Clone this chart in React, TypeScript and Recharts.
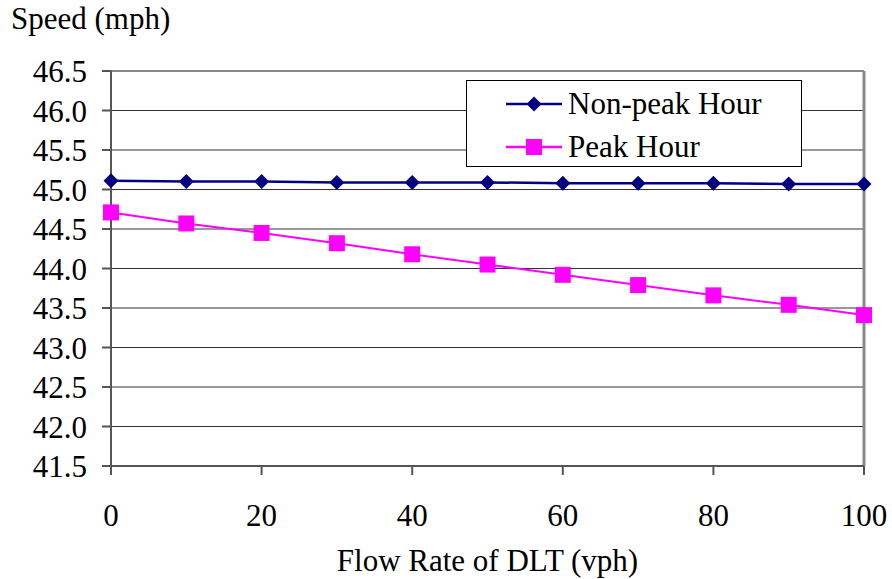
import { LineChart, Line, XAxis, YAxis, CartesianGrid, ReferenceLine } from 'recharts';

const flowRates = [0, 10, 20, 30, 40, 50, 60, 70, 80, 90, 100];
const nonPeakSpeeds = [45.11, 45.1, 45.1, 45.09, 45.09, 45.09, 45.08, 45.08, 45.08, 45.07, 45.07];
const peakSpeeds = [44.71, 44.57, 44.45, 44.32, 44.18, 44.05, 43.92, 43.79, 43.66, 43.54, 43.41];
const xTicks = [0, 20, 40, 60, 80, 100];
const yTicks = [41.5, 42, 42.5, 43, 43.5, 44, 44.5, 45, 45.5, 46, 46.5];

const NAVY = '#000080';
const MAGENTA = '#FF00FF';
const FONT = "'Liberation Serif', 'DejaVu Serif', serif";

const data = flowRates.map((flow, i) => ({
  flow,
  nonPeak: nonPeakSpeeds[i],
  peak: peakSpeeds[i],
}));

function Diamond(props: any) {
  const { cx, cy } = props;
  if (cx == null || cy == null) return null;
  const r = 7.5;
  return <polygon points={`${cx},${cy - r} ${cx + r},${cy} ${cx},${cy + r} ${cx - r},${cy}`} fill={NAVY} />;
}

function Square(props: any) {
  const { cx, cy } = props;
  if (cx == null || cy == null) return null;
  return <rect x={cx - 8} y={cy - 8} width={16} height={16} fill={MAGENTA} />;
}

function LegendBox() {
  const rows = [
    { name: 'Non-peak Hour', color: NAVY, marker: 'diamond' },
    { name: 'Peak Hour', color: MAGENTA, marker: 'square' },
  ];
  return (
    <div
      style={{
        position: 'absolute',
        left: 466,
        top: 80,
        width: 336,
        height: 87,
        boxSizing: 'border-box',
        border: '1.5px solid #000',
        background: '#fff',
        paddingTop: 5,
      }}
    >
      {rows.map((r) => (
        <div key={r.name} style={{ display: 'flex', alignItems: 'center', height: 36, marginBottom: 7 }}>
          <svg width={56} height={20} style={{ marginLeft: 39, marginRight: 6 }}>
            <line x1={0} y1={10} x2={56} y2={10} stroke={r.color} strokeWidth={2.5} />
            {r.marker === 'diamond' ? (
              <polygon points="28,2.5 35.5,10 28,17.5 20.5,10" fill={r.color} />
            ) : (
              <rect x={20} y={2} width={16} height={16} fill={r.color} />
            )}
          </svg>
          <span style={{ fontFamily: FONT, fontSize: 31, color: '#000', lineHeight: '36px' }}>{r.name}</span>
        </div>
      ))}
    </div>
  );
}

export default function App() {
  return (
    <div style={{ position: 'absolute', left: 0, top: 0, width: 892, height: 579, background: '#fff', fontFamily: FONT }}>
      <LineChart width={892} height={579} data={data} margin={{ top: 71, right: 28, bottom: 0, left: 0 }} style={{ fontFamily: FONT }}>
        <CartesianGrid horizontal vertical={false} stroke="#333" strokeWidth={1} />
        <XAxis
          dataKey="flow"
          type="number"
          domain={[0, 100]}
          ticks={xTicks}
          interval={0}
          height={113}
          tickSize={9}
          tickMargin={29}
          stroke="#555"
          strokeWidth={2}
          tick={{ fill: '#000', fontFamily: FONT, fontSize: 31 }}
          label={{ value: 'Flow Rate of DLT (vph)', position: 'insideBottom', offset: 8, fill: '#000', fontFamily: FONT, fontSize: 31 }}
        />
        <YAxis
          type="number"
          domain={[41.5, 46.5]}
          ticks={yTicks}
          interval={0}
          width={111}
          tickSize={9}
          tickMargin={15}
          stroke="#555"
          strokeWidth={2}
          tickFormatter={(v: number) => v.toFixed(1)}
          tick={{ fill: '#000', fontFamily: FONT, fontSize: 31 }}
        />
        <ReferenceLine y={46.5} stroke="#888" strokeWidth={2} />
        <ReferenceLine x={100} stroke="#888" strokeWidth={3} />
        <Line
          type="linear"
          dataKey="nonPeak"
          name="Non-peak Hour"
          stroke={NAVY}
          strokeWidth={2.5}
          dot={<Diamond />}
          isAnimationActive={false}
        />
        <Line
          type="linear"
          dataKey="peak"
          name="Peak Hour"
          stroke={MAGENTA}
          strokeWidth={2}
          dot={<Square />}
          isAnimationActive={false}
        />
      </LineChart>
      <div style={{ position: 'absolute', left: 11, top: 2, fontSize: 31, color: '#000', lineHeight: '34px' }}>
        Speed (mph)
      </div>
      <LegendBox />
    </div>
  );
}
